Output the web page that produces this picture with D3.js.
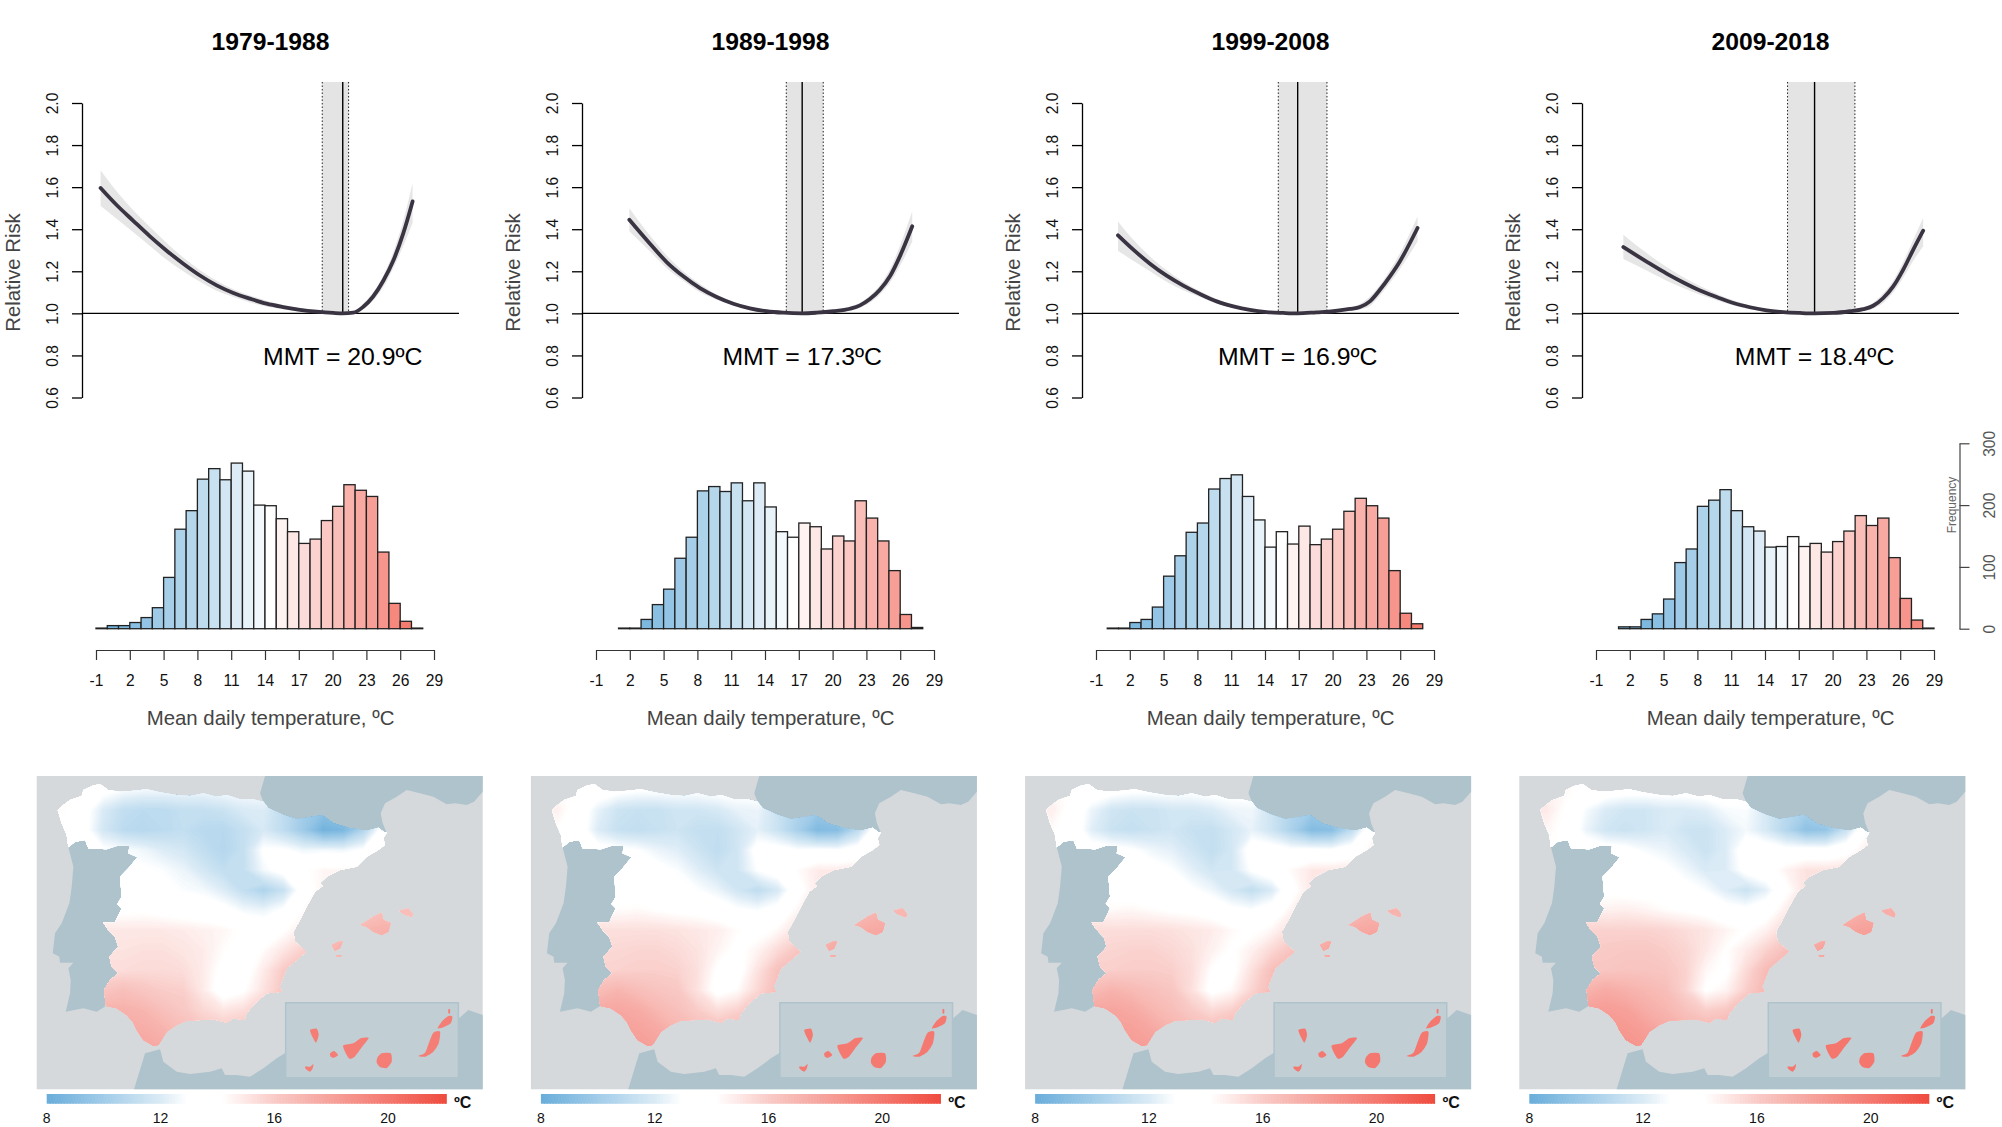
<!DOCTYPE html>
<html>
<head>
<meta charset="utf-8">
<title>Temperature and relative risk, Spain</title>
<style>
  body { margin: 0; background: #fff; }
  text { font-family: "Liberation Sans", Arial, sans-serif; }
</style>
</head>
<body>
<svg id="chart" width="2002" height="1127"></svg>
<script src="https://cdn.jsdelivr.net/npm/d3@7"></script>
<script>
var periods = ['1979-1988', '1989-1998', '1999-2008', '2009-2018'];
var mmt = [20.9, 17.3, 16.9, 18.4];
var mmtLow = [19.08, 15.89, 15.18, 16.0];
var mmtHigh = [21.42, 19.17, 19.5, 21.98];

var riskTicks = [0.6, 0.8, 1.0, 1.2, 1.4, 1.6, 1.8, 2.0];
var tempTicks = [-1, 2, 5, 8, 11, 14, 17, 20, 23, 26, 29];
var freqTicks = [0, 100, 200, 300];
var legendTicks = [8, 12, 16, 20];

// relative risk curves
var riskTemp = [
  [-0.59, 0.83, 2.31, 3.79, 5.27, 6.75, 8.23, 9.71, 11.19, 12.66, 14.14, 15.62, 17.1, 18.58, 20.06, 20.9, 21.83, 22.7, 23.6, 24.5, 25.38, 26.27, 27.1],
  [1.96, 3.79, 5.27, 6.75, 8.23, 9.71, 11.19, 12.66, 14.14, 15.62, 17.3, 18.58, 20.06, 21.54, 22.43, 23.31, 24.2, 25.09, 25.97, 27.07],
  [0.95, 2.31, 3.79, 5.27, 6.75, 8.23, 9.71, 11.19, 12.66, 14.14, 15.62, 16.9, 18.58, 20.06, 21.54, 22.43, 23.31, 24.2, 25.09, 25.97, 27.54],
  [1.43, 3.79, 5.27, 6.75, 8.23, 9.71, 11.19, 12.66, 14.14, 15.62, 17.1, 18.4, 20.06, 21.54, 22.72, 23.6, 24.5, 25.38, 26.27, 27.16, 28.04]
];
var riskFit = [
  [1.596, 1.515, 1.44, 1.366, 1.298, 1.236, 1.18, 1.133, 1.097, 1.07, 1.046, 1.03, 1.017, 1.008, 1.002, 1.0, 1.003, 1.03, 1.08, 1.155, 1.25, 1.38, 1.532],
  [1.445, 1.331, 1.244, 1.176, 1.12, 1.078, 1.046, 1.024, 1.01, 1.003, 1.0, 1.003, 1.01, 1.022, 1.038, 1.068, 1.112, 1.176, 1.271, 1.414],
  [1.371, 1.303, 1.236, 1.179, 1.132, 1.092, 1.057, 1.033, 1.016, 1.006, 1.002, 1.0, 1.005, 1.01, 1.021, 1.03, 1.057, 1.112, 1.176, 1.247, 1.406],
  [1.315, 1.236, 1.189, 1.147, 1.109, 1.078, 1.049, 1.029, 1.014, 1.006, 1.002, 1.0, 1.002, 1.01, 1.02, 1.036, 1.073, 1.128, 1.208, 1.303, 1.393]
];
var riskHi = [
  [1.68, 1.58, 1.49, 1.41, 1.335, 1.265, 1.205, 1.155, 1.115, 1.085, 1.06, 1.04, 1.025, 1.012, 1.003, 1.0, 1.008, 1.045, 1.10, 1.18, 1.29, 1.44, 1.62],
  [1.50, 1.37, 1.275, 1.20, 1.14, 1.09, 1.055, 1.03, 1.014, 1.005, 1.0, 1.005, 1.016, 1.032, 1.05, 1.085, 1.135, 1.21, 1.32, 1.485],
  [1.437, 1.35, 1.27, 1.205, 1.15, 1.105, 1.068, 1.04, 1.022, 1.01, 1.003, 1.0, 1.008, 1.015, 1.03, 1.045, 1.08, 1.135, 1.205, 1.285, 1.461],
  [1.374, 1.275, 1.22, 1.172, 1.13, 1.093, 1.062, 1.038, 1.02, 1.008, 1.002, 1.0, 1.003, 1.014, 1.028, 1.05, 1.095, 1.155, 1.245, 1.35, 1.453]
];
var riskLo = [
  [1.51, 1.45, 1.385, 1.32, 1.255, 1.2, 1.15, 1.108, 1.078, 1.052, 1.032, 1.02, 1.008, 1.003, 1.0, 1.0, 0.998, 1.02, 1.06, 1.125, 1.215, 1.32, 1.43],
  [1.39, 1.295, 1.215, 1.155, 1.10, 1.065, 1.038, 1.018, 1.006, 1.0, 0.995, 1.0, 1.004, 1.012, 1.026, 1.05, 1.09, 1.145, 1.225, 1.342],
  [1.298, 1.25, 1.2, 1.15, 1.11, 1.078, 1.047, 1.026, 1.01, 1.0, 0.997, 0.995, 1.0, 1.005, 1.012, 1.018, 1.035, 1.085, 1.145, 1.21, 1.342],
  [1.258, 1.195, 1.155, 1.12, 1.088, 1.062, 1.037, 1.02, 1.006, 1.0, 0.995, 0.994, 0.994, 1.0, 1.01, 1.022, 1.05, 1.1, 1.17, 1.25, 1.319]
];

// histogram counts, one bin per degree, bin -1..0 first
var histCounts = [
  [1, 5, 5, 10, 18, 34, 83, 161, 191, 242, 259, 241, 268, 255, 200, 199, 178, 157, 138, 145, 175, 198, 233, 224, 214, 124, 41, 12, 1, 0],
  [0, 0, 1, 1, 15, 39, 64, 114, 148, 223, 230, 222, 236, 207, 236, 197, 157, 148, 171, 165, 129, 150, 142, 207, 179, 142, 94, 23, 2, 0],
  [0, 1, 1, 10, 15, 35, 85, 118, 156, 171, 226, 243, 249, 214, 176, 132, 157, 137, 166, 136, 145, 161, 190, 211, 199, 179, 94, 25, 8, 0],
  [0, 0, 3, 3, 15, 24, 48, 107, 129, 198, 208, 225, 191, 165, 158, 132, 133, 149, 133, 138, 124, 141, 158, 183, 167, 179, 115, 49, 14, 1]
];
var histWhiteBin = [14, 16, 15, 16];

// bar colours, by distance in bins from the white bar
var barOffsets = [-14, -10, -7, -5, -3, -1, 0, 1, 3, 5, 7, 9, 11, 13];
var barColors = ['#72b3dc', '#9ecae8', '#b5d7ec', '#c8e1f1', '#dcebf6', '#f3f8fc', '#ffffff', '#fff3f2', '#fcdcda', '#fbc8c4', '#f9b3ac', '#f79f97', '#f6887e', '#f2705f'];

// map colour bar
var legendTemps = [8, 10, 12, 12.9, 14.1, 15, 16, 18, 20, 22.06];
var legendColors = ['#6baedb', '#a3cde9', '#dcecf6', '#ffffff', '#ffffff', '#fde6e4', '#f9cac6', '#f6a19a', '#f4786f', '#ef4a3d'];

// map outlines, in the coordinates of the first map crop
var spainCoast = [[113,150],[130,135],[150,120],[185,108],[190,90],[215,78],[240,72],[265,90],[300,95],[340,92],[380,88],[420,97],[470,105],[510,108],[550,100],[590,110],[620,105],[660,118],[700,118],[730,125],[745,145],[790,165],[830,178],[870,172],[905,165],[940,190],[990,205],[1040,212],[1075,203],[1090,215],[1100,218],[1090,235],[1095,255],[1075,270],[1040,290],[1010,320],[960,330],[920,350],[900,370],[908,378],[885,395],[860,440],[840,480],[820,515],[825,545],[858,575],[830,600],[800,625],[790,650],[778,680],[785,695],[740,700],[705,730],[680,760],[672,780],[640,775],[620,788],[580,778],[500,782],[470,795],[440,815],[415,855],[400,857],[370,840],[350,810],[338,785],[320,765],[290,745],[258,738],[252,690],[270,660],[295,640],[275,620],[268,590],[295,560],[285,530],[265,510],[250,488],[285,487],[305,445],[292,432],[305,410],[300,350],[325,325],[352,292],[325,280],[328,258],[290,258],[260,268],[205,265],[195,240],[165,245],[145,262],[140,225],[125,190]];
var balearics = [
  [[1022,495],[1060,470],[1085,458],[1090,480],[1112,490],[1105,515],[1085,525],[1060,515],[1040,500]],
  [[1138,452],[1165,445],[1178,462],[1175,472],[1150,462]],
  [[935,555],[955,545],[968,545],[960,565],[945,572]],
  [[948,585],[965,585],[962,590],[950,590]]
];
var canaries = [
  [[870,810],[890,806],[896,825],[888,848],[878,832]],
  [[855,920],[870,920],[880,912],[878,925],[870,935],[858,928]],
  [[930,880],[942,873],[954,885],[942,893],[932,890]],
  [[970,856],[1000,850],[1022,835],[1046,834],[1022,866],[1002,892],[988,896],[975,875]],
  [[1072,893],[1085,880],[1112,880],[1115,905],[1100,924],[1080,921],[1070,908]],
  [[1195,888],[1215,878],[1228,845],[1240,818],[1260,815],[1256,850],[1240,875],[1215,890]],
  [[1253,805],[1265,785],[1285,768],[1297,770],[1292,790],[1270,802]],
  [[1285,748],[1290,748],[1290,760],[1285,760]]
];
var portugal = [[145,262],[165,245],[195,240],[205,265],[260,268],[290,258],[328,258],[325,280],[352,292],[325,325],[300,350],[305,410],[292,432],[305,445],[285,487],[250,488],[265,510],[285,530],[295,560],[268,590],[275,620],[295,640],[270,660],[252,690],[258,738],[230,755],[190,745],[137,755],[150,700],[152,660],[145,625],[160,608],[120,608],[118,590],[98,580],[105,520],[125,490],[148,430],[155,380],[160,320]];
var biscay = [[735,48],[1388,48],[1388,95],[1362,125],[1340,135],[1305,130],[1280,133],[1240,110],[1200,100],[1160,90],[1130,110],[1095,130],[1082,160],[1088,190],[1100,218],[1090,215],[1075,203],[1040,212],[990,205],[940,190],[905,165],[870,172],[830,178],[790,165],[745,145],[730,125],[720,100]];
var southSea = [[342,988],[375,880],[420,868],[430,905],[470,935],[510,942],[570,935],[605,925],[615,945],[650,945],[690,950],[730,925],[770,895],[810,870],[1300,790],[1345,750],[1388,765],[1388,988]];
var insetBox = [[797,728],[1315,728],[1315,953],[797,953]];

// mean temperature field, 18 x 14 cells, first row is the north edge
var field1979 = [
  14,13.6,13.2,12.8,12.6,12.6,12.6,12.6,12.8,12.8,12.8,12.5,12,12,12,12,12,12,
  14.2,13.4,11.9,11.1,10.9,10.9,11.2,11.2,11.4,11.9,12,11,10,9.4,9.8,11,12.5,13,
  13.8,13.3,11.7,10.9,10.7,10.9,11.1,10.8,10.7,11.2,11.8,11,9.8,8.3,8.6,10.5,13.5,14,
  13.6,13.4,13,12.8,12.5,12,11.7,11.1,10.6,11.2,13,13,12.5,12.6,12.5,13,14,14.2,
  13.6,13.4,13.2,13.2,13,12.8,12.4,11.7,11.1,11.2,12.6,13.3,14,14.4,14.4,14.5,14.5,14.5,
  13.6,13.4,13.3,13.3,13.2,13.2,12.8,12.6,12,11.1,10.4,11.3,13.5,14.6,14.8,15,15,15,
  14,14,14,13.9,14,13.8,13.6,13.5,13.2,12.6,12.4,13,14.2,15,15.5,16,16.5,16.5,
  14.9,14.9,14.9,14.9,14.9,14.9,14.8,14.6,14.4,14,13.6,14,14.8,15.5,16.5,17,17.2,17.2,
  15.1,15.1,15.1,15.1,15.2,15.2,15,14.8,14.2,13.7,14.2,15,15.8,16.8,17.3,17.3,17.3,17.3,
  15.3,15.3,15.3,15.3,15.4,15.4,15.3,14.8,13.8,13.6,14.8,16,16.4,16.6,16.6,16.6,16.6,16.6,
  16.2,16.2,16.2,16.5,16.2,15.9,15.8,14.8,13.5,14,15.1,16.2,16.8,17,17,17,17,17,
  17.2,17.2,17.2,17.2,17,16.5,16.1,15.5,15,15.3,16,16.6,17,17,17,17,17,17,
  17.6,17.6,17.6,17.6,17.4,17.1,16.6,16.2,16.1,16.4,16.6,17,17,17,17,17,17,17,
  17.8,17.8,17.8,17.8,17.8,17.6,17,16.6,16.6,16.8,17,17,17,17,17,17,17,17
];
var field1989 = [
  14.3,14,13.6,13.2,13,13,13,13,13.2,13.2,13.2,12.9,12.4,12.4,12.4,12.4,12.4,12.4,
  14.6,13.7,12.3,11.5,11.3,11.3,11.6,11.6,11.8,12.3,12.4,11.4,10.4,9.8,10.2,11.4,12.9,13.4,
  14.1,13.6,12,11.3,11.1,11.3,11.5,11.2,11.1,11.6,12.2,11.4,10.2,8.8,9,10.9,13.8,14.4,
  13.9,13.7,13.3,13.1,12.9,12.4,12.1,11.5,11,11.6,13.3,13.3,12.9,13,12.9,13.4,14.4,14.6,
  13.9,13.7,13.5,13.5,13.3,13.2,12.8,12.1,11.5,11.6,12.9,13.5,14.2,14.8,14.8,14.9,14.9,14.9,
  13.9,13.7,13.6,13.6,13.5,13.5,13.1,12.9,12.4,11.6,11,11.8,13.7,14.9,15.2,15.4,15.4,15.4,
  14.3,14.3,14.3,14.2,14.3,14.1,13.9,13.8,13.5,13,12.8,13.3,14.4,15.3,15.9,16.4,16.9,16.9,
  15.2,15.2,15.2,15.2,15.2,15.2,15.1,14.9,14.7,14.2,13.8,14.3,15.2,15.9,16.9,17.4,17.6,17.6,
  15.4,15.4,15.4,15.5,15.6,15.6,15.4,15.1,14.5,13.9,14.5,15.4,16.2,17.2,17.7,17.7,17.7,17.7,
  15.7,15.7,15.7,15.7,15.8,15.8,15.7,15.2,14,13.7,15.1,16.4,16.8,17,17,17,17,17,
  16.6,16.6,16.6,17,16.6,16.3,16.1,15.1,13.7,14.2,15.5,16.6,17.2,17.4,17.4,17.4,17.4,17.4,
  17.6,17.6,17.6,17.7,17.5,16.9,16.5,15.9,15.3,15.7,16.4,17,17.4,17.4,17.4,17.4,17.4,17.4,
  18,18,18,18,17.9,17.6,17,16.6,16.5,16.8,17,17.4,17.4,17.4,17.4,17.4,17.4,17.4,
  18.2,18.2,18.2,18.2,18.2,18,17.4,17,17,17.2,17.4,17.4,17.4,17.4,17.4,17.4,17.4,17.4
];
var field1999 = [
  14.4,14.1,13.7,13.3,13.1,13.1,13.1,13.1,13.3,13.3,13.3,13,12.5,12.5,12.5,12.5,12.5,12.5,
  14.7,13.8,12.4,11.6,11.4,11.4,11.7,11.7,11.9,12.4,12.5,11.5,10.5,9.9,10.3,11.5,13,13.5,
  14.2,13.7,12.1,11.4,11.2,11.4,11.6,11.3,11.2,11.7,12.3,11.5,10.3,8.9,9.1,11,13.9,14.5,
  14,13.8,13.4,13.2,13,12.5,12.2,11.6,11.1,11.7,13.4,13.4,13,13.1,13,13.5,14.5,14.7,
  14,13.8,13.6,13.6,13.4,13.3,12.9,12.2,11.6,11.7,13,13.6,14.3,14.9,14.9,15,15,15,
  14,13.8,13.7,13.7,13.6,13.6,13.2,13,12.5,11.7,11.1,11.9,13.8,15,15.3,15.5,15.5,15.5,
  14.5,14.5,14.5,14.3,14.4,14.2,14,13.9,13.6,13.1,12.9,13.4,14.5,15.4,16,16.5,17,17,
  15.3,15.3,15.3,15.3,15.3,15.3,15.2,15,14.8,14.3,13.9,14.4,15.3,16,17,17.5,17.7,17.7,
  15.5,15.5,15.5,15.6,15.7,15.7,15.5,15.2,14.6,14,14.6,15.5,16.3,17.3,17.8,17.8,17.8,17.8,
  15.8,15.8,15.8,15.8,15.9,15.9,15.8,15.3,14.1,13.8,15.2,16.5,16.9,17.1,17.1,17.1,17.1,17.1,
  16.7,16.7,16.7,17.1,16.8,16.5,16.2,15.2,13.8,14.3,15.6,16.7,17.3,17.5,17.5,17.5,17.5,17.5,
  17.7,17.7,17.7,17.8,17.6,17,16.6,16,15.4,15.8,16.5,17.1,17.5,17.5,17.5,17.5,17.5,17.5,
  18.1,18.1,18.1,18.1,18,17.7,17.1,16.7,16.6,16.9,17.1,17.5,17.5,17.5,17.5,17.5,17.5,17.5,
  18.3,18.3,18.3,18.3,18.3,18.1,17.5,17.1,17.1,17.3,17.5,17.5,17.5,17.5,17.5,17.5,17.5,17.5
];
var field2009 = [
  14.6,14.3,13.9,13.5,13.3,13.3,13.3,13.3,13.5,13.5,13.5,13.2,12.7,12.7,12.7,12.7,12.7,12.7,
  14.9,14,12.7,11.9,11.6,11.6,11.9,11.9,12.1,12.7,12.8,11.8,10.8,10.2,10.6,11.8,13.2,13.7,
  14.4,13.9,12.4,11.6,11.4,11.6,11.9,11.5,11.4,12,12.6,11.8,10.6,9.3,9.5,11.3,14,14.7,
  14.2,14,13.6,13.4,13.2,12.7,12.4,11.9,11.4,12,13.5,13.5,13.2,13.3,13.2,13.7,14.7,14.9,
  14.2,14,13.8,13.8,13.6,13.5,13.1,12.5,11.9,12,13.2,13.7,14.5,15.1,15.1,15.2,15.2,15.2,
  14.3,14,13.9,13.9,13.8,13.8,13.4,13.2,12.8,12,11.4,12.2,13.9,15.2,15.5,15.7,15.7,15.7,
  14.8,14.8,14.8,14.6,14.7,14.5,14.2,14,13.8,13.3,13.1,13.6,14.7,15.6,16.2,16.7,17.3,17.3,
  15.7,15.7,15.7,15.7,15.7,15.7,15.6,15.3,15,14.5,14,14.6,15.5,16.2,17.2,17.8,18,18,
  15.9,15.9,15.9,16,16.1,16.1,15.9,15.6,14.9,14.1,14.8,15.7,16.5,17.5,18,18,18,18,
  16.2,16.2,16.2,16.2,16.3,16.3,16.2,15.7,14.4,13.9,15.4,16.7,17.1,17.3,17.3,17.3,17.3,17.3,
  17.1,17.1,17.1,17.5,17.2,16.9,16.6,15.6,14,14.5,15.8,16.9,17.5,17.7,17.7,17.7,17.7,17.7,
  18.1,18.1,18.1,18.2,18,17.4,17,16.4,15.8,16.1,16.8,17.4,17.7,17.7,17.7,17.7,17.7,17.7,
  18.5,18.5,18.5,18.5,18.4,18.1,17.5,17.1,17,17.3,17.5,17.7,17.7,17.7,17.7,17.7,17.7,17.7,
  18.7,18.7,18.7,18.7,18.7,18.5,17.9,17.5,17.4,17.6,17.7,17.7,17.7,17.7,17.7,17.7,17.7,17.7
];
var fields = [field1979, field1989, field1999, field2009];
var canaryTemp = [19.7, 19.9, 20, 20.1];

var svg = d3.select('#chart');

var riskY = d3.scaleLinear().domain([0.6, 2.0]).range([397.5, 103]);
var freqY = d3.scaleLinear().domain([0, 300]).range([628.7, 443.3]);
var tempColor = d3.scaleLinear().domain(legendTemps).range(legendColors).clamp(true);
var barColor = d3.scaleLinear().domain(barOffsets).range(barColors).clamp(true);

var mapX = d3.scaleLinear().domain([50, 1388]).range([36.7, 482.7]);
var mapY = d3.scaleLinear().domain([48, 988]).range([776, 1089.3]);
var gridX = d3.scaleLinear().domain([0, 18]).range([mapX(100), mapX(1180)]);
var gridY = d3.scaleLinear().domain([0, 14]).range([mapY(60), mapY(900)]);
var legendX = d3.scaleLinear().domain([8, 22.06]).range([46.7, 446.7]);

var mapLine = d3.line().x(function (d) { return mapX(d[0]); }).y(function (d) { return mapY(d[1]); });
var islandLine = d3.line().curve(d3.curveCardinalClosed.tension(0.3))
  .x(function (d) { return mapX(d[0]); }).y(function (d) { return mapY(d[1]); });
function shape(pts) { return mapLine(pts) + 'Z'; }
var gridPath = d3.geoPath(d3.geoTransform({
  point: function (x, y) { this.stream.point(gridX(x), gridY(y)); }
}));

periods.forEach(function (period, i) {
  var g = svg.append('g').attr('transform', 'translate(' + (i * 500) + ',0)');
  var x = d3.scaleLinear().domain([-1, 29]).range([96, 434]);

  g.append('text').text(period)
    .attr('x', 270.5).attr('y', 50)
    .attr('text-anchor', 'middle')
    .style('font-weight', 'bold').style('font-size', '24.7px').style('fill', '#000');

  // top row: relative risk
  var top = riskY(2.1), one = riskY(1);
  g.append('rect')
    .attr('x', x(mmtLow[i])).attr('y', top)
    .attr('width', x(mmtHigh[i]) - x(mmtLow[i])).attr('height', one - top)
    .attr('fill', '#e4e4e4');
  [mmtLow[i], mmtHigh[i]].forEach(function (t) {
    g.append('line')
      .attr('x1', x(t)).attr('x2', x(t)).attr('y1', top).attr('y2', one)
      .attr('stroke', '#222').attr('stroke-width', 1).attr('stroke-dasharray', '1.5 2');
  });

  var band = riskTemp[i].map(function (t, k) { return {t: t, fit: riskFit[i][k], lo: riskLo[i][k], hi: riskHi[i][k]}; });
  g.append('path').datum(band)
    .attr('d', d3.area().curve(d3.curveMonotoneX)
      .x(function (d) { return x(d.t); })
      .y0(function (d) { return riskY(d.lo); })
      .y1(function (d) { return riskY(d.hi); }))
    .attr('fill', '#e6e6e6');

  g.append('line')
    .attr('x1', 82.3).attr('x2', 459).attr('y1', one).attr('y2', one)
    .attr('stroke', '#000').attr('stroke-width', 1.3);
  g.append('line')
    .attr('x1', x(mmt[i])).attr('x2', x(mmt[i])).attr('y1', top).attr('y2', one + 1)
    .attr('stroke', '#000').attr('stroke-width', 1.4);

  g.append('path').datum(band)
    .attr('d', d3.line().curve(d3.curveMonotoneX)
      .x(function (d) { return x(d.t); })
      .y(function (d) { return riskY(d.fit); }))
    .attr('fill', 'none').attr('stroke', '#3a3442').attr('stroke-width', 3.8).attr('stroke-linecap', 'round');

  var yAxis = g.append('g').attr('transform', 'translate(82,0)')
    .call(d3.axisLeft(riskY).tickValues(riskTicks).tickSize(10).tickSizeOuter(0).tickFormat(d3.format('.1f')));
  yAxis.selectAll('line, path').attr('stroke', '#000').attr('stroke-width', 1.3);
  yAxis.selectAll('text')
    .attr('transform', 'rotate(-90)')
    .attr('x', 0).attr('y', -24).attr('dy', 0)
    .attr('text-anchor', 'middle')
    .style('font-size', '15.6px').style('fill', '#111');

  g.append('text').text('Relative Risk')
    .attr('transform', 'translate(20,272.5) rotate(-90)')
    .attr('text-anchor', 'middle')
    .style('font-size', '20.3px').style('fill', '#444');

  g.append('text').text('MMT = ' + mmt[i].toFixed(1) + 'ºC')
    .attr('x', x(mmt[i])).attr('y', 365)
    .attr('text-anchor', 'middle')
    .style('font-size', '24.8px').style('fill', '#000');

  // middle row: histogram
  var bins = histCounts[i].map(function (n, k) { return {from: k - 1, n: n}; })
    .filter(function (d) { return d.n > 0; });
  g.selectAll('rect.bin').data(bins).enter().append('rect').attr('class', 'bin')
    .attr('x', function (d) { return x(d.from); })
    .attr('width', function (d) { return x(d.from + 1) - x(d.from); })
    .attr('y', function (d) { return freqY(d.n); })
    .attr('height', function (d) { return freqY(0) - freqY(d.n); })
    .attr('fill', function (d) { return barColor(d.from - histWhiteBin[i]); })
    .attr('stroke', '#222').attr('stroke-width', 1.3);

  var xAxis = g.append('g').attr('transform', 'translate(0,650)')
    .call(d3.axisBottom(x).tickValues(tempTicks).tickSize(10).tickSizeOuter(0).tickFormat(String));
  xAxis.selectAll('line, path').attr('stroke', '#333').attr('stroke-width', 1.2);
  xAxis.selectAll('text')
    .attr('y', 35.7).attr('dy', 0)
    .style('font-size', '15.6px').style('fill', '#111');

  g.append('text').text('Mean daily temperature, ºC')
    .attr('x', 270.5).attr('y', 725)
    .attr('text-anchor', 'middle')
    .style('font-size', '20.4px').style('fill', '#444');

  // bottom row: map
  var m = svg.append('g').attr('transform', 'translate(' + (i * 494.2) + ',0)');
  var clipId = 'spain' + i;
  var clip = m.append('clipPath').attr('id', clipId);
  clip.append('path').attr('d', shape(spainCoast));
  balearics.forEach(function (b) { clip.append('path').attr('d', shape(b)); });

  m.append('rect')
    .attr('x', mapX(50)).attr('y', mapY(48))
    .attr('width', mapX(1388) - mapX(50)).attr('height', mapY(988) - mapY(48))
    .attr('fill', '#d5d9dc');
  [portugal, biscay, southSea].forEach(function (p) {
    m.append('path').attr('d', shape(p)).attr('fill', '#afc3cc');
  });

  var thresholds = d3.range(7.4, 22.2, 0.1);
  var contours = d3.contours().size([18, 14]).thresholds(thresholds)(fields[i]);
  m.append('g').attr('clip-path', 'url(#' + clipId + ')')
    .selectAll('path').data(contours).enter().append('path')
    .attr('d', gridPath)
    .attr('fill', function (d) { return tempColor(d.value + 0.05); });

  m.append('path').attr('d', shape(insetBox))
    .attr('fill', '#c1cfd5').attr('stroke', '#afc3cc').attr('stroke-width', 1.5);
  canaries.forEach(function (c) {
    m.append('path').attr('d', islandLine(c)).attr('fill', tempColor(canaryTemp[i]));
  });

  // colour bar
  m.selectAll('rect.key').data(d3.range(8, 22.06, 0.1)).enter().append('rect').attr('class', 'key')
    .attr('x', function (d) { return legendX(d); })
    .attr('width', function (d) { return Math.min(legendX(d + 0.15), legendX(22.06)) - legendX(d); })
    .attr('y', 1094).attr('height', 9.7)
    .attr('fill', function (d) { return tempColor(d); });
  m.selectAll('text.keyLabel').data(legendTicks).enter().append('text').attr('class', 'keyLabel')
    .text(function (d) { return d; })
    .attr('x', function (d) { return legendX(d); })
    .attr('y', 1123.3)
    .attr('text-anchor', 'middle')
    .style('font-size', '14px').style('fill', '#111');
  m.append('text').text('ºC')
    .attr('x', 454).attr('y', 1107.7)
    .style('font-weight', 'bold').style('font-size', '16px').style('fill', '#111');
});

// frequency axis, right of the last histogram
var freqAxis = svg.append('g').attr('transform', 'translate(1959.5,0)')
  .call(d3.axisRight(freqY).tickValues(freqTicks).tickSize(10).tickSizeOuter(0));
freqAxis.selectAll('line, path').attr('stroke', '#444').attr('stroke-width', 1.2);
freqAxis.selectAll('text')
  .attr('transform', 'rotate(-90)')
  .attr('x', 0).attr('y', 35.5).attr('dy', 0)
  .attr('text-anchor', 'middle')
  .style('font-size', '15.6px').style('fill', '#555');
svg.append('text').text('Frequency')
  .attr('transform', 'translate(1955.5,505) rotate(-90)')
  .attr('text-anchor', 'middle')
  .style('font-size', '12px').style('fill', '#666');
</script>
</body>
</html>
